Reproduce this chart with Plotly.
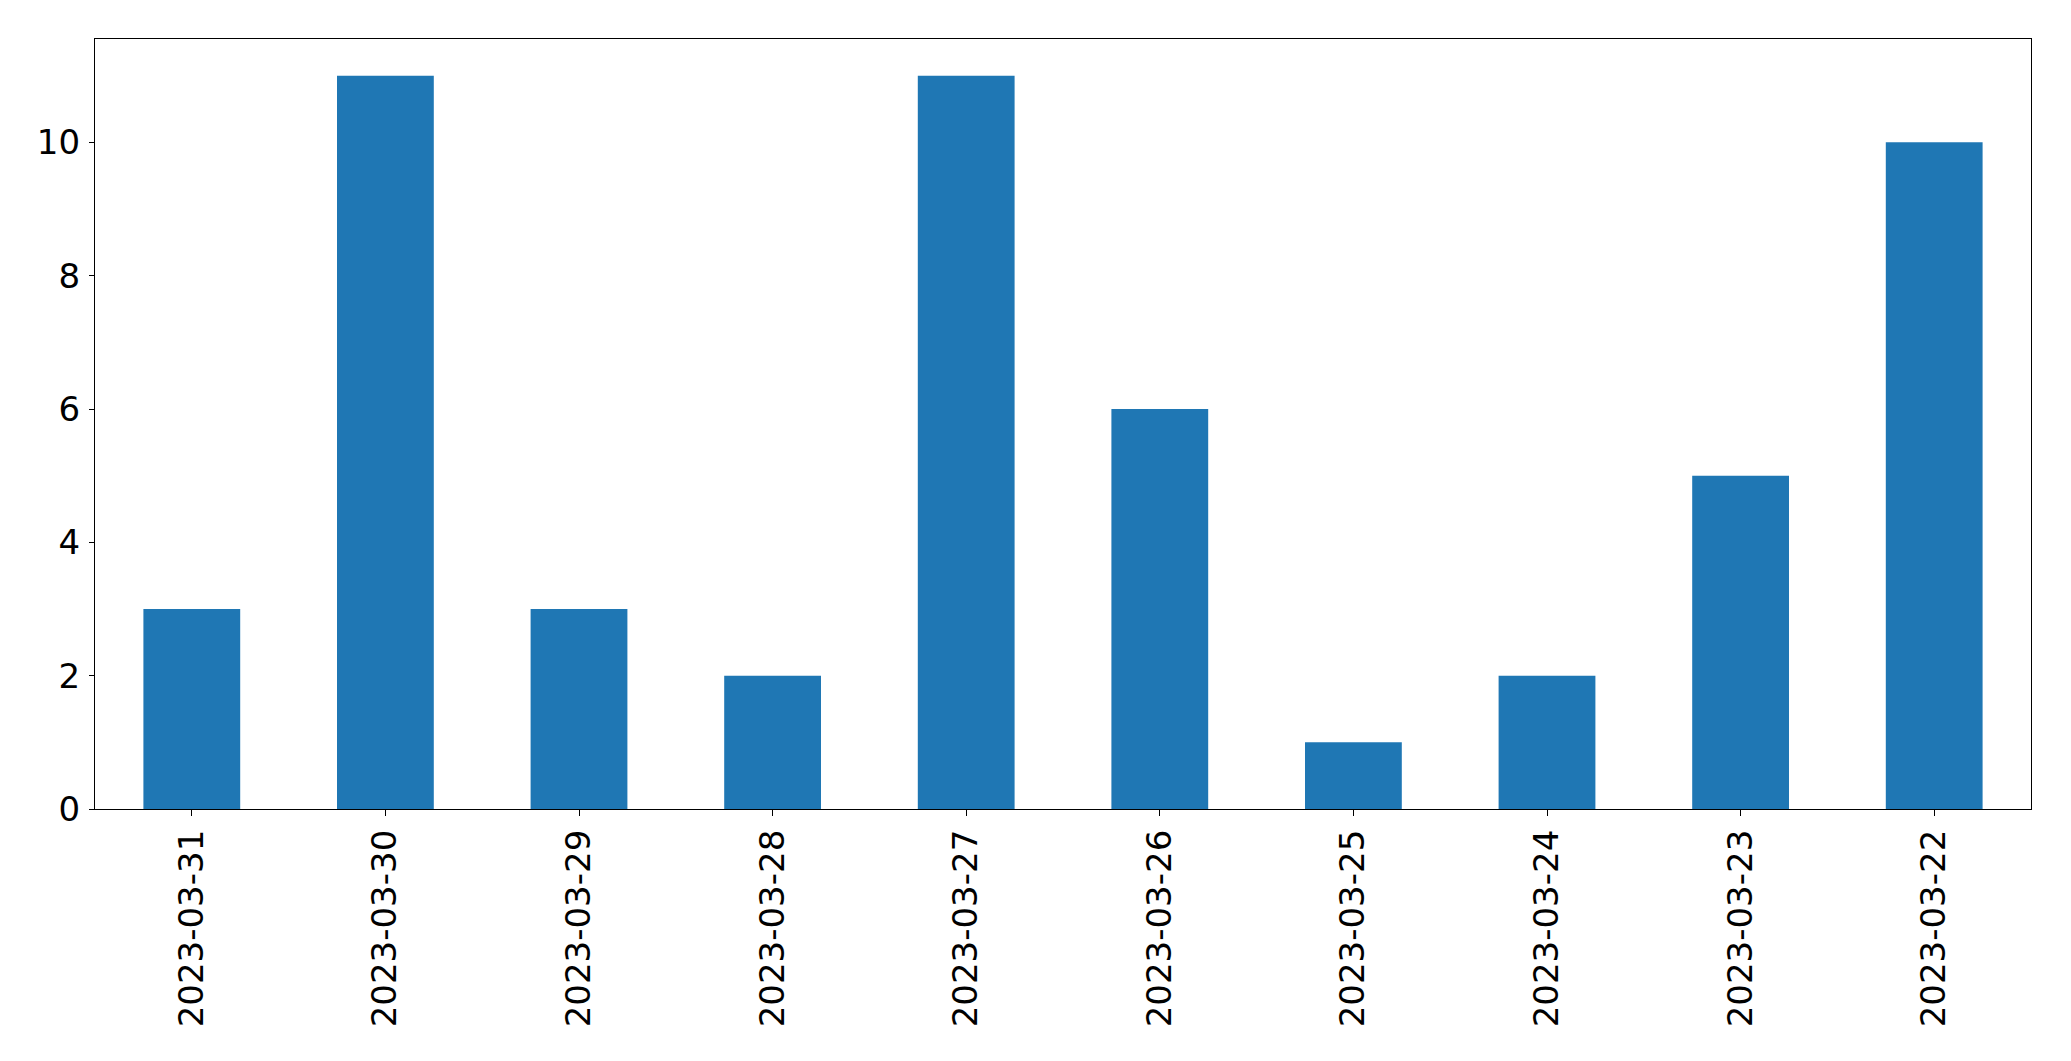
import plotly.graph_objects as go

dates = ["2023-03-31", "2023-03-30", "2023-03-29", "2023-03-28", "2023-03-27",
         "2023-03-26", "2023-03-25", "2023-03-24", "2023-03-23", "2023-03-22"]
counts = [3, 11, 3, 2, 11, 6, 1, 2, 5, 10]
y_ticks = [0, 2, 4, 6, 8, 10]

fig = go.Figure(go.Bar(x=dates, y=counts, marker_color="#1f77b4",
                       marker_line_width=0, width=0.5))

font = dict(family="DejaVu Sans", size=34, color="black")
fig.update_layout(
    width=2071, height=1061,
    margin=dict(l=87, r=48, t=31, b=260, autoexpand=False),
    plot_bgcolor="white", paper_bgcolor="white",
    showlegend=False,
    font=font,
)
fig.update_xaxes(type="category", range=[-0.5, 9.5], tickangle=-90,
                 showline=True, linecolor="black", linewidth=1.3, mirror=True,
                 ticks="outside", ticklen=6, tickwidth=1.3, tickcolor="black",
                 showgrid=False, tickfont=font)
fig.update_yaxes(range=[0, 11.55], tickvals=y_ticks,
                 showline=True, linecolor="black", linewidth=1.3, mirror=True,
                 ticks="outside", ticklen=5, tickwidth=1.3, tickcolor="black",
                 ticklabelstandoff=2,
                 showgrid=False, zeroline=False, tickfont=font)

fig.write_html("out.html")
